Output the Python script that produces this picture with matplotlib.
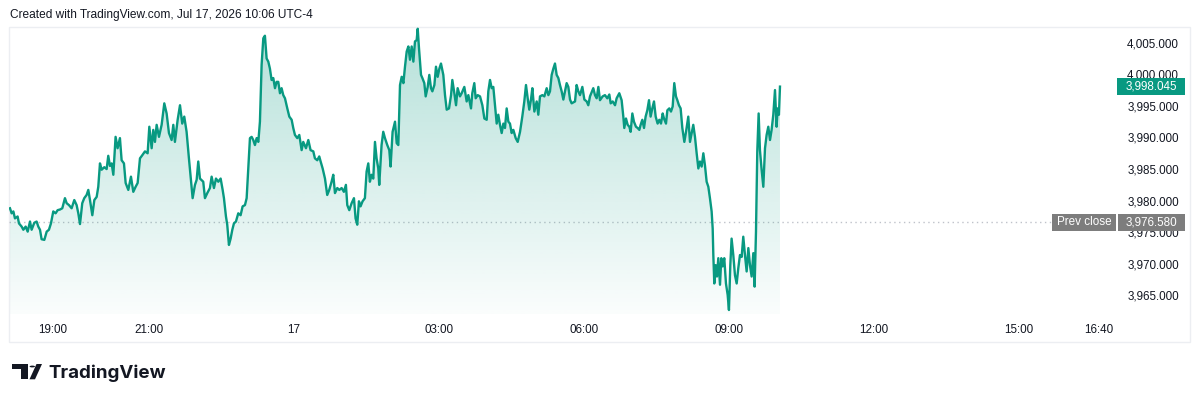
import matplotlib
matplotlib.use("Agg")
import matplotlib.pyplot as plt
import numpy as np
from matplotlib.colors import to_rgb
from matplotlib.patches import FancyBboxPatch, Rectangle, Circle, Polygon
from matplotlib.transforms import blended_transform_factory

# time = minutes after 18:00 on Jul 16, price = index level
eve_min = [7.2, 9.3, 11.4, 13.4, 16.7, 18.4, 21.7, 23.8, 26.7, 29.2,
           32.1, 34.1, 37.4, 40.3, 42.4, 44.5, 46.5, 49.9, 52.8, 55.6,
           58.1, 61.0, 63.9, 66.4, 69.3, 72.2, 75.5, 77.6, 80.5, 83.8,
           87.1, 90.0, 92.1, 94.2, 97.0, 99.5, 102.4, 104.5, 106.6, 109.5,
           112.0, 114.9, 116.9, 119.0, 121.1, 124.4, 127.3, 129.3, 131.4, 133.5,
           135.6, 138.4, 140.9, 143.8, 145.9, 148.8, 150.9, 154.2, 157.5, 160.4,
           163.3, 165.8, 168.7, 171.6, 174.9, 178.2, 180.3, 183.2, 185.2, 187.3,
           189.4, 192.3, 195.6, 198.9, 201.8, 204.7, 208.0, 210.1, 212.1, 215.5,
           218.4, 221.2, 223.7, 226.6, 229.5, 232.0, 234.1, 237.0, 239.1, 241.1]
eve_px = [3978.8, 3978.0, 3978.3, 3977.2, 3977.5, 3976.4, 3975.9, 3975.4, 3975.9, 3975.1,
          3976.7, 3975.4, 3976.5, 3976.7, 3975.9, 3975.4, 3973.9, 3973.8, 3975.1, 3975.4,
          3976.4, 3978.3, 3978.0, 3978.5, 3978.6, 3978.8, 3980.4, 3979.6, 3979.3, 3978.8,
          3980.1, 3979.3, 3978.0, 3976.3, 3979.6, 3980.4, 3980.9, 3981.7, 3980.1, 3977.7,
          3980.1, 3980.6, 3982.2, 3985.9, 3984.9, 3985.3, 3985.0, 3987.1, 3985.5, 3985.9,
          3984.1, 3990.1, 3988.3, 3989.9, 3986.4, 3985.9, 3982.8, 3981.7, 3983.8, 3981.4,
          3982.2, 3982.8, 3986.7, 3987.2, 3987.8, 3987.5, 3991.7, 3988.3, 3991.2, 3989.3,
          3992.0, 3990.1, 3992.0, 3995.4, 3993.8, 3990.7, 3989.6, 3992.0, 3989.3, 3992.8,
          3995.1, 3992.2, 3993.3, 3990.9, 3986.7, 3983.3, 3980.4, 3982.5, 3983.3, 3986.2]

night_min = [243.2, 247.3, 249.4, 252.3, 255.6, 257.7, 260.6, 263.1, 266.0, 268.9,
             271.4, 273.0, 275.5, 277.1, 279.2, 281.3, 283.4, 285.4, 287.9, 290.8,
             293.7, 296.2, 299.1, 301.2, 303.2, 305.3, 307.4, 309.4, 311.5, 313.6,
             315.7, 317.7, 319.8, 321.9, 323.9, 326.0, 328.1, 330.1, 332.2, 334.3,
             336.4, 338.4, 340.5, 342.6, 344.6, 346.7, 348.8, 351.7, 354.2, 357.1,
             359.1, 361.2, 364.1, 366.6, 369.5, 371.5, 374.9, 377.8, 380.6, 384.0,
             386.0, 388.9, 391.4, 393.1, 395.6, 398.5, 401.3, 403.8, 406.7, 408.8,
             410.9, 413.8, 416.3, 419.2, 422.0, 424.5, 426.2, 428.7, 431.6, 434.5,
             436.5, 438.6, 440.7, 442.7, 445.2, 448.1, 450.2, 452.3, 454.3, 456.4,
             458.5, 460.6, 462.6, 464.7, 465.9, 468.8, 470.9, 473.0, 475.9, 478.4,
             480.0, 482.5]
night_px = [3983.5, 3983.0, 3980.4, 3981.2, 3982.0, 3983.8, 3982.0, 3983.5, 3983.0, 3983.5,
            3981.7, 3980.4, 3977.5, 3976.2, 3973.0, 3974.0, 3975.4, 3976.4, 3976.7, 3978.0,
            3977.7, 3979.1, 3979.3, 3980.4, 3985.1, 3989.9, 3990.1, 3989.6, 3988.8, 3989.9,
            3989.3, 3992.5, 4001.5, 4005.7, 4006.1, 4002.5, 4002.0, 4000.9, 3999.1, 3999.4,
            3997.8, 3998.8, 3998.8, 3997.0, 3997.8, 3996.7, 3996.2, 3994.6, 3993.3, 3992.8,
            3991.5, 3990.4, 3989.9, 3990.4, 3988.0, 3989.3, 3988.3, 3989.6, 3988.0, 3987.8,
            3986.7, 3986.4, 3987.0, 3986.2, 3985.1, 3983.5, 3980.9, 3981.7, 3983.0, 3984.1,
            3981.2, 3982.0, 3981.7, 3982.0, 3981.4, 3982.5, 3979.3, 3978.5, 3979.6, 3980.4,
            3977.2, 3976.2, 3979.9, 3979.1, 3979.9, 3980.4, 3984.6, 3985.9, 3983.0, 3984.1,
            3983.5, 3989.3, 3986.7, 3985.1, 3982.5, 3988.8, 3990.9, 3989.9, 3988.8, 3988.0,
            3985.4, 3990.9]

dawn_min = [485.5, 487.6, 489.6, 491.7, 493.8, 495.9, 497.9, 500.0, 502.1, 504.1,
            506.2, 508.3, 510.3, 512.4, 513.7, 515.3, 517.8, 519.5, 521.9, 523.6,
            526.1, 528.1, 530.2, 531.9, 534.4, 536.4, 538.5, 540.6, 542.6, 545.5,
            547.6, 549.7, 552.6, 555.1, 556.7, 559.2, 561.3, 563.3, 566.2, 568.3,
            571.6, 574.5, 576.6, 579.9, 581.5, 584.0, 585.7, 588.2, 591.1, 594.0,
            596.5, 599.4, 601.4, 603.5, 605.6, 607.6, 609.7, 611.8, 613.8, 615.9,
            618.0, 620.1, 622.1, 624.2, 626.3, 628.3, 630.4, 632.5, 635.4, 637.9,
            640.8, 643.6, 646.1, 648.2, 650.3, 652.3, 654.4, 656.1, 658.6, 661.5,
            663.5, 665.6, 668.5, 671.0, 673.9, 676.0, 678.0, 680.1, 682.2, 684.2,
            686.3, 688.4, 690.4, 692.5, 694.6, 696.6, 698.7, 700.8, 702.9, 704.9,
            709.1, 711.1, 713.2, 715.3, 718.2, 720.7, 723.6, 725.6, 727.7]
dawn_px = [3992.5, 3989.1, 3988.8, 3998.3, 3999.6, 3998.6, 4001.2, 4003.6, 4004.4, 4002.3,
           4004.4, 4002.0, 4005.2, 4005.4, 4007.2, 4004.1, 3999.9, 3999.4, 3998.6, 3996.5,
           3998.0, 3999.9, 3997.8, 3997.3, 3998.3, 4001.2, 3999.6, 4000.9, 4001.7, 3999.9,
           3996.7, 3994.4, 3994.6, 3996.7, 3999.1, 3997.0, 3995.1, 3997.8, 3996.5, 3997.0,
           3998.0, 3995.7, 3996.7, 3994.6, 3997.0, 3998.6, 3996.2, 3996.7, 3996.5, 3995.1,
           3993.0, 3992.8, 3997.3, 3999.1, 3997.8, 3998.0, 3995.1, 3992.2, 3993.6, 3992.0,
           3990.7, 3992.2, 3991.5, 3994.6, 3992.5, 3992.2, 3990.7, 3991.2, 3989.9, 3989.3,
           3990.9, 3993.3, 3995.7, 3998.3, 3996.2, 3994.4, 3996.0, 3997.8, 3994.1, 3995.7,
           3993.6, 3996.5, 3996.7, 3996.5, 3997.8, 3996.7, 3997.3, 3999.9, 4000.9, 4001.7,
           3999.9, 3999.4, 3998.3, 3997.3, 3996.0, 3997.3, 3998.6, 3998.0, 3996.0, 3995.4,
           3995.7, 3998.3, 3997.3, 3996.7, 3998.0, 3996.0, 3995.7, 3995.1, 3996.5]

morn_min = [731.8, 733.9, 736.0, 738.1, 740.1, 743.4, 746.3, 749.2, 751.7, 753.4,
            755.9, 758.8, 760.8, 764.1, 767.0, 769.1, 770.3, 772.4, 774.5, 776.6,
            778.2, 780.3, 782.3, 784.8, 786.9, 789.0, 790.6, 792.7, 794.8, 796.8,
            798.9, 801.0, 803.0, 805.1, 807.2, 809.3, 811.7, 813.8, 815.9, 818.0,
            819.6, 822.1, 823.8, 826.2, 828.3, 830.4, 832.4, 834.5, 836.2, 838.2,
            840.3, 842.4, 844.9, 847.0, 849.8, 851.9, 854.0, 856.0, 858.1, 860.2,
            862.3, 864.3, 866.4, 868.5, 870.5, 872.6, 874.7, 876.7, 878.8, 880.1,
            880.9, 882.1, 883.8, 885.4, 887.1, 889.2, 890.8, 892.5, 894.5, 896.6,
            898.7, 900.3, 902.0, 903.6, 905.7, 907.8, 909.9, 911.9, 914.0, 916.1,
            918.1, 920.2, 922.3, 924.4, 926.4, 928.5, 930.6, 932.2, 933.9, 935.5,
            937.2, 938.8, 940.9, 943.0, 945.1, 947.1, 949.2, 951.3, 953.3, 955.4,
            957.5, 959.5, 960.8, 962.4, 963.7]
morn_px = [3997.8, 3996.7, 3996.2, 3998.0, 3995.9, 3996.5, 3996.7, 3996.2, 3996.8, 3995.4,
           3995.7, 3995.1, 3996.2, 3997.0, 3995.9, 3993.3, 3991.5, 3993.0, 3992.0, 3991.7,
           3990.9, 3993.8, 3992.5, 3991.7, 3991.5, 3991.2, 3992.0, 3992.8, 3991.5, 3993.3,
           3994.3, 3995.9, 3993.3, 3994.6, 3995.7, 3993.3, 3992.2, 3992.8, 3992.2, 3993.8,
           3993.0, 3992.2, 3994.3, 3994.6, 3994.1, 3994.9, 3998.6, 3996.5, 3995.9, 3995.1,
           3994.6, 3991.5, 3989.3, 3990.9, 3993.3, 3989.3, 3990.7, 3992.0, 3990.1, 3987.5,
           3985.1, 3986.2, 3985.4, 3987.5, 3985.6, 3983.0, 3982.2, 3980.4, 3978.3, 3975.6,
           3971.4, 3966.9, 3969.8, 3968.0, 3970.9, 3966.7, 3970.9, 3969.6, 3970.9, 3966.9,
           3965.1, 3962.7, 3969.8, 3974.0, 3971.4, 3968.2, 3966.9, 3969.3, 3971.4, 3971.1,
           3974.3, 3971.4, 3968.8, 3972.5, 3969.8, 3968.0, 3971.7, 3966.4, 3975.1, 3987.8,
           3993.8, 3988.0, 3984.9, 3982.2, 3988.3, 3990.4, 3991.7, 3989.6, 3991.2, 3993.6,
           3997.5, 3991.7, 3994.6, 3993.6, 3998.045]

prev_close = 3976.58
price_ticks = [3965, 3970, 3975, 3980, 3985, 3990, 3995, 4000, 4005]
time_ticks = [60, 180, 360, 540, 720, 900, 1080, 1260, 1360]
time_labels = ["19:00", "21:00", "17", "03:00", "06:00", "09:00", "12:00", "15:00", "16:40"]
title = "Created with TradingView.com, Jul 17, 2026 10:06 UTC-4"

GREEN = "#089981"
GREY_TAG = "#7d7d7d"
TXT = "#131722"
FONT = "Liberation Sans"

W, H = 1200, 401
def fx(px):
    return px / W
def fy(py):
    return 1 - py / H

minutes = np.array(eve_min + night_min + dawn_min + morn_min)
prices = np.array(eve_px + night_px + dawn_px + morn_px)

y_lo, y_hi = 3962.07, 4007.48
x_lo, x_hi = 6.0, 1381.1

fig = plt.figure(figsize=(12, 4.01), dpi=100)
fig.patch.set_facecolor("white")

frame = FancyBboxPatch((fx(9), fy(342)), fx(1190) - fx(9), fy(27) - fy(342),
                       boxstyle="square,pad=0", transform=fig.transFigure,
                       fc="white", ec="#eceef2", lw=1, zorder=-1)
fig.patches.append(frame)

ax = fig.add_axes([fx(9), fy(314), fx(1116) - fx(9), fy(27) - fy(314)])
ax.set_facecolor("none")

# gradient area under the line
poly = ax.fill_between(minutes, prices, y_lo, facecolor="none", edgecolor="none")
grad = np.zeros((256, 1, 4))
grad[..., :3] = to_rgb(GREEN)
grad[..., 3] = np.linspace(0.02, 0.30, 256).reshape(-1, 1)
img = ax.imshow(grad, extent=[minutes[0], minutes[-1], y_lo, prices.max()],
                origin="lower", aspect="auto", zorder=2, interpolation="bilinear")
img.set_clip_path(poly.get_paths()[0], ax.transData)

ax.axhline(prev_close, color="#bfc2ca", lw=1, ls=(0, (1, 2.5)), zorder=1)
ax.plot(minutes, prices, color=GREEN, lw=1.7, solid_joinstyle="round", zorder=3)

ax.set_xlim(x_lo, x_hi)
ax.set_ylim(y_lo, y_hi)
for s in ax.spines.values():
    s.set_visible(False)

ax.yaxis.tick_right()
ax.set_yticks(price_ticks, [f"{v:,.3f}" for v in price_ticks])
ax.set_xticks(time_ticks, time_labels)
ax.tick_params(axis="y", length=0, pad=8, labelsize=8.4, labelcolor=TXT)
ax.tick_params(axis="x", length=0, pad=7.5, labelsize=8.4, labelcolor=TXT)
for lab in ax.get_xticklabels() + ax.get_yticklabels():
    lab.set_fontfamily(FONT)

# price tags on the right axis
tag_tr = blended_transform_factory(fig.transFigure, ax.transData)
unit_px = (314 - 27) / (y_hi - y_lo)

def tag(x0, x1, y, text, color):
    h = 17 / unit_px
    ax.add_patch(Rectangle((fx(x0), y - h / 2), fx(x1) - fx(x0), h, transform=tag_tr,
                           fc=color, ec="none", clip_on=False, zorder=5))
    ax.text(fx((x0 + x1) / 2), y, text, transform=tag_tr, ha="center", va="center",
            color="white", fontsize=8.4, family=FONT, clip_on=False, zorder=6)

tag(1052, 1116, prev_close, "Prev close", GREY_TAG)
tag(1118, 1185, prev_close, f"{prev_close:,.3f}", GREY_TAG)
tag(1117, 1185, prices[-1], f"{prices[-1]:,.3f}", GREEN)

fig.text(fx(10), fy(15), title, fontsize=8.6, family=FONT, color=TXT, va="center")

# TradingView logo
logo = "#131722"
fig.patches.append(Polygon([(fx(12), fy(364)), (fx(28.3), fy(364)), (fx(28.3), fy(379.3)),
                            (fx(21), fy(379.3)), (fx(21), fy(369.3)), (fx(12), fy(369.3))],
                           closed=True, transform=fig.transFigure, fc=logo, ec="none"))
fig.patches.append(Circle((fx(32.3), fy(366.5)), 2.7 / W, transform=fig.transFigure,
                          fc=logo, ec="none"))
fig.patches.append(Polygon([(fx(36.5), fy(364)), (fx(42), fy(364)), (fx(35), fy(379.3)),
                            (fx(29.5), fy(379.3))],
                           closed=True, transform=fig.transFigure, fc=logo, ec="none"))
fig.text(fx(48), fy(378), "TradingView", fontsize=13.5, fontweight="bold", family="Inter",
         color=logo, va="baseline")

fig.savefig("out.png", dpi=100, facecolor="white")
